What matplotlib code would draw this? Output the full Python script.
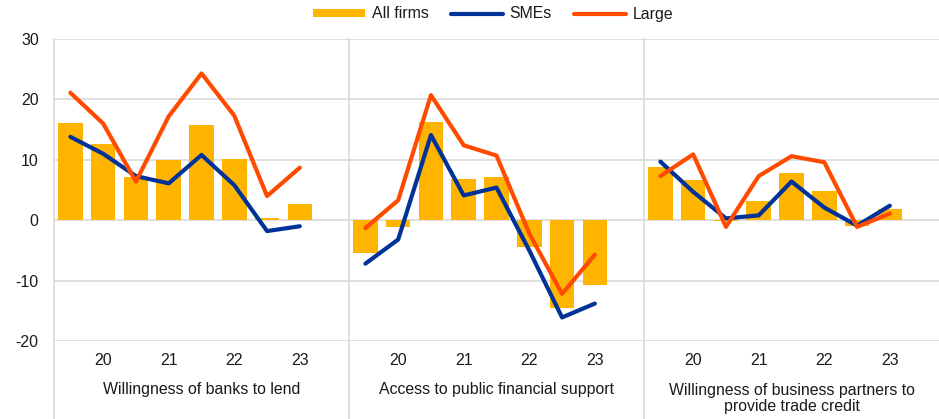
import numpy as np
import matplotlib
matplotlib.use("Agg")
import matplotlib.pyplot as plt
from matplotlib.lines import Line2D
from matplotlib.patches import Patch

plt.rcParams['font.family'] = ['Liberation Sans', 'DejaVu Sans']
plt.rcParams['font.size'] = 11.4
plt.rcParams['axes.unicode_minus'] = False

# data: half-yearly net percentages, 8 waves per panel
panels = ["Willingness of banks to lend",
          "Access to public financial support",
          "Willingness of business partners to\nprovide trade credit"]
year_labels = ["20", "21", "22", "23"]

all_firms = [
    [16.1, 12.6, 7.1, 9.9, 15.7, 10.1, 0.3, 2.7],
    [-5.4, -1.2, 16.2, 6.8, 7.2, -4.4, -14.6, -10.8],
    [8.8, 6.6, -0.2, 3.1, 7.8, 4.9, -0.9, 1.8],
]
smes = [
    [13.8, 11.0, 7.3, 6.1, 10.8, 5.8, -1.8, -1.0],
    [-7.2, -3.2, 14.1, 4.1, 5.4, -5.0, -16.1, -13.8],
    [9.7, 4.7, 0.3, 0.8, 6.4, 2.1, -0.9, 2.4],
]
large = [
    [21.1, 16.0, 6.4, 17.2, 24.3, 17.3, 4.0, 8.7],
    [-1.3, 3.3, 20.7, 12.4, 10.7, -2.2, -12.2, -5.7],
    [7.3, 10.9, -1.1, 7.3, 10.6, 9.6, -1.1, 1.1],
]

c_bar = "#FFB400"
c_sme = "#003299"
c_large = "#FF4B00"
c_grid = "#d9d9d9"
c_text = "#1a1a1a"

fig = plt.figure(figsize=(9.39, 4.19), dpi=100)
ax = fig.add_axes([54 / 939, 78 / 419, 885 / 939, 302 / 419])

slot = 9  # 8 waves + one empty slot per panel
for k in range(3):
    x = k * slot + 0.5 + np.arange(8)
    ax.bar(x, all_firms[k], width=0.75, color=c_bar, zorder=2)
    ax.plot(x, smes[k], color=c_sme, lw=3, solid_capstyle='round', zorder=3)
    ax.plot(x, large[k], color=c_large, lw=3, solid_capstyle='round', zorder=4)
    for j, lab in enumerate(year_labels):
        ax.text(k * slot + 1.5 + 2 * j, -0.063, lab, transform=ax.get_xaxis_transform(),
                ha='center', va='center', color=c_text)
    ax.text(k * slot + 4.5, -0.16 if k < 2 else -0.19, panels[k],
            transform=ax.get_xaxis_transform(), ha='center', va='center',
            color=c_text, linespacing=1.12)

ax.set_xlim(0, 3 * slot)
ax.set_ylim(-20, 30)
ax.set_yticks(np.arange(-20, 31, 10))
ax.set_xticks([])
ax.tick_params(axis='y', length=0, pad=11, labelcolor=c_text)
ax.grid(axis='y', color=c_grid, lw=1.2, zorder=0)
ax.set_axisbelow(True)
for s in ax.spines.values():
    s.set_visible(False)

# panel separators, running down to the bottom of the figure
for xv in [0, slot, 2 * slot]:
    ax.plot([xv, xv], [-0.27, 1], transform=ax.get_xaxis_transform(),
            color=c_grid, lw=1.2, clip_on=False, zorder=1)

handles = [Patch(facecolor=c_bar, edgecolor='none'),
           Line2D([], [], color=c_sme, lw=3, solid_capstyle='round'),
           Line2D([], [], color=c_large, lw=3, solid_capstyle='round')]
fig.legend(handles, ["All firms", "SMEs", "Large"], loc='center',
           bbox_to_anchor=(493 / 939, 1 - 14 / 419), ncol=3, frameon=False,
           handlelength=3.3, handleheight=0.45, handletextpad=0.4,
           columnspacing=1.4, labelcolor=c_text)

fig.savefig("out.png", dpi=100)
